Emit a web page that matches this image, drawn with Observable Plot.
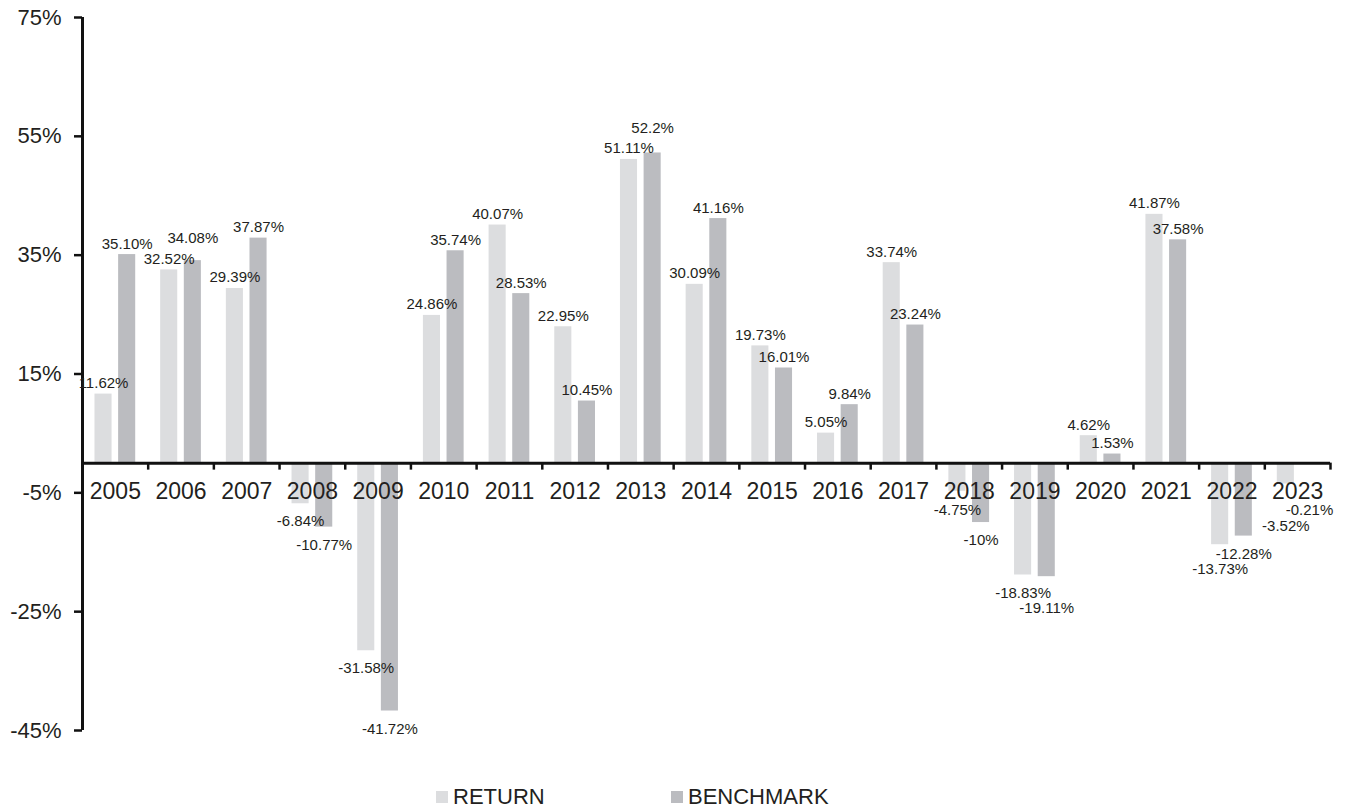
<!DOCTYPE html>
<html>
<head>
<meta charset="utf-8">
<script src="https://cdn.jsdelivr.net/npm/d3@7"></script>
<script src="https://cdn.jsdelivr.net/npm/@observablehq/plot@0.6"></script>
<style>
  html, body { margin: 0; padding: 0; background: #fff; }
  body { font-family: "Liberation Sans", Arial, sans-serif; color: #231f20; }
  #legend { display: flex; align-items: center; height: 44px; padding-left: 436px; font-size: 22px; }
  #legend .item { display: inline-flex; align-items: center; }
  #legend .sw { display: inline-block; width: 12px; height: 12px; margin-right: 5px; }
</style>
</head>
<body>
<div id="chart"></div>
<div id="legend"></div>
<script>
// ---- data ----
const years = ["2005","2006","2007","2008","2009","2010","2011","2012","2013","2014","2015","2016","2017","2018","2019","2020","2021","2022","2023"];
const returnValues = ["11.62","32.52","29.39","-6.84","-31.58","24.86","40.07","22.95","51.11","30.09","19.73","5.05","33.74","-4.75","-18.83","4.62","41.87","-13.73","-3.52"];
const benchmarkValues = ["35.10","34.08","37.87","-10.77","-41.72","35.74","28.53","10.45","52.2","41.16","16.01","9.84","23.24","-10","-19.11","1.53","37.58","-12.28","-0.21"];
const seriesNames = ["RETURN", "BENCHMARK"];
const seriesColors = ["#dcdddf", "#bbbcc0"];
const yTicks = [75, 55, 35, 15, -5, -25, -45];

// ---- table ----
const rows = years.map((year, i) => ({
  year,
  ret: +returnValues[i], retLabel: returnValues[i] + "%",
  bench: +benchmarkValues[i], benchLabel: benchmarkValues[i] + "%"
}));

// ---- label placement (in data units): avoid collisions between the two labels of a year ----
const labelFloor = -5;   // small negative labels sit below the year labels
const minGap = 2.5;      // labels closer than this collide
const stackStep = 3.5;   // step used to stack a colliding label
rows.forEach(d => {
  let r = d.ret >= 0 ? d.ret : Math.min(d.ret, labelFloor);
  let b = d.bench >= 0 ? d.bench : Math.min(d.bench, labelFloor);
  if (d.ret >= 0 && d.bench >= 0 && Math.abs(r - b) < minGap) {
    if (b >= r) b = r + stackStep; else r = b + stackStep;
  } else if (d.ret < 0 && d.bench < 0 && Math.abs(r - b) < minGap) {
    if (d.ret <= d.bench) r = b - stackStep * 0.75; else b = r - stackStep * 0.75;
  }
  d.retLabelY = r;
  d.benchLabelY = b;
});

const width = 1353, height = 775;
const marginLeft = 82, marginRight = 23;
const bw = (width - marginLeft - marginRight) / years.length;
const barW = bw * 0.26, gap = bw * 0.1;
const outer = (bw - 2 * barW - gap) / 2;
const shift = (barW + gap) / 2;
const font = '"Liberation Sans", Arial, sans-serif';

const chart = Plot.plot({
  width, height,
  marginLeft, marginRight, marginTop: 17, marginBottom: 45,
  x: {domain: years, padding: 0, round: false, axis: null},
  y: {domain: d3.extent(yTicks)},
  style: {fontFamily: font, color: "#231f20", background: "#fff"},
  marks: [
    Plot.barY(rows, {x: "year", y: "ret", fill: seriesColors[0], insetLeft: outer, insetRight: outer + barW + gap}),
    Plot.barY(rows, {x: "year", y: "bench", fill: seriesColors[1], insetLeft: outer + barW + gap, insetRight: outer}),
    // x axis line at zero
    Plot.ruleY([0], {stroke: "#111", strokeWidth: 3}),
    // y axis line
    Plot.ruleX([years[0]], {y1: () => yTicks[yTicks.length - 1], y2: () => yTicks[0], dx: -bw / 2, stroke: "#111", strokeWidth: 3}),
    // category boundary ticks
    Plot.ruleX(years, {x: d => d, y1: () => 0, y2: () => 0, dx: bw / 2, insetBottom: -7, stroke: "#111", strokeWidth: 2.5}),
    Plot.axisY({ticks: yTicks, tickFormat: d => d + "%", tickSize: 8, tickPadding: 13, fontSize: 22, stroke: "#111", strokeWidth: 2.5, label: null}),
    // year labels
    Plot.text(years, {x: d => d, y: () => 0, text: d => d, dy: 28, lineAnchor: "middle", fontSize: 23, fill: "#231f20"}),
    // value labels
    Plot.text(rows, {filter: d => d.ret >= 0, x: "year", y: "retLabelY", text: "retLabel", dx: -shift, dy: -6, lineAnchor: "bottom", fontSize: 15, fill: "#231f20"}),
    Plot.text(rows, {filter: d => d.ret < 0, x: "year", y: "retLabelY", text: "retLabel", dx: -shift, dy: 12, lineAnchor: "top", fontSize: 15, fill: "#231f20"}),
    Plot.text(rows, {filter: d => d.bench >= 0, x: "year", y: "benchLabelY", text: "benchLabel", dx: shift, dy: -6, lineAnchor: "bottom", fontSize: 15, fill: "#231f20"}),
    Plot.text(rows, {filter: d => d.bench < 0, x: "year", y: "benchLabelY", text: "benchLabel", dx: shift, dy: 12, lineAnchor: "top", fontSize: 15, fill: "#231f20"})
  ]
});
document.getElementById("chart").appendChild(chart);

// legend
const legend = document.getElementById("legend");
seriesNames.forEach((name, i) => {
  const item = document.createElement("span");
  item.className = "item";
  if (i === 0) item.style.width = "235px";
  const sw = document.createElement("span");
  sw.className = "sw";
  sw.style.background = seriesColors[i];
  item.appendChild(sw);
  item.appendChild(document.createTextNode(name));
  legend.appendChild(item);
});
</script>
</body>
</html>
